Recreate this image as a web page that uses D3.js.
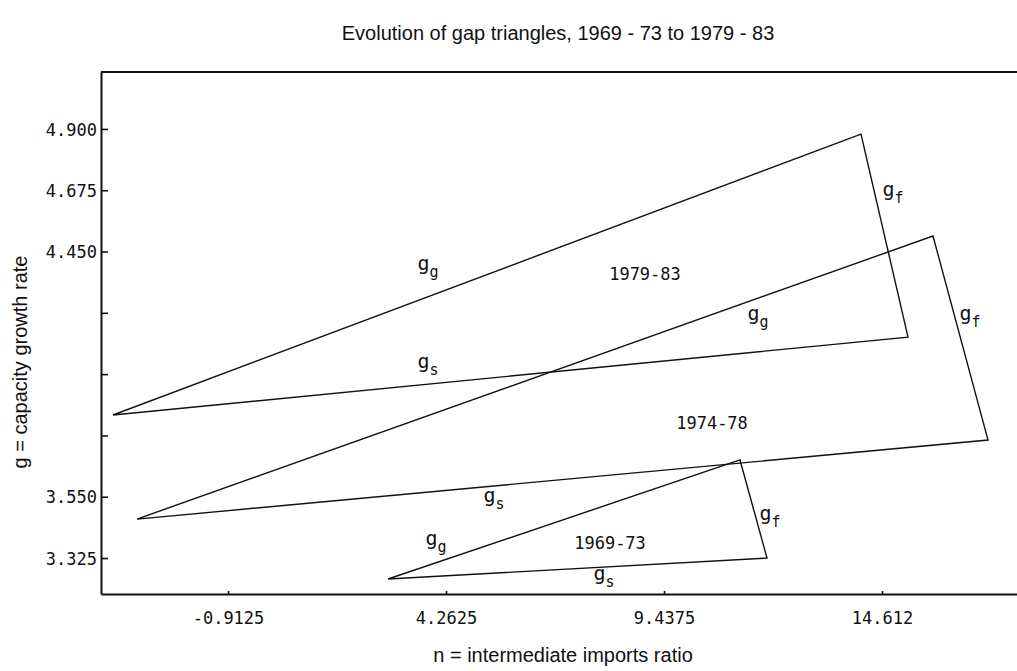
<!DOCTYPE html>
<html>
<head>
<meta charset="utf-8">
<script src="https://cdn.jsdelivr.net/npm/d3@7"></script>
<style>
  body { margin: 0; background: #fff; }
  .tick text, .lbl { font-family: "DejaVu Sans Mono", monospace; fill: #111; }
  .ttl { font-family: "Liberation Sans", Arial, sans-serif; fill: #111; }
</style>
</head>
<body>
<div id="chart"></div>
<script>
// gap triangles, one per period: left, top and right vertices (n, g)
const periods = ["1969-73", "1974-78", "1979-83"];
const leftN  = [2.885, -3.072, -3.642];
const leftG  = [3.248, 3.468, 3.850];
const topN   = [11.240, 15.821, 14.112];
const topG   = [3.685, 4.507, 4.881];
const rightN = [11.881, 17.127, 15.228];
const rightG = [3.325, 3.758, 4.136];

// text labels placed on the chart
const labelMain = ["g", "1969-73", "g", "g",  "g", "1974-78", "g", "g",  "g", "1979-83", "g", "g"];
const labelSub  = ["g", "", "f", "s",  "g", "", "f", "s",  "g", "", "f", "s"];
const labelN = [4.025, 8.155, 11.952, 8.012,  11.668, 10.576, 16.700, 5.401,  3.835, 8.985, 14.872, 3.835];
const labelG = [3.380, 3.380, 3.472, 3.252,   4.206, 3.821, 4.206, 3.538,    4.390, 4.368, 4.660, 4.030];

// axes
const xTickValues = [-0.9125, 4.2625, 9.4375, 14.612];
const xTickLabels = ["-0.9125", "4.2625", "9.4375", "14.612"];
const yTickValues = [3.325, 3.550, 3.775, 4.000, 4.225, 4.450, 4.675, 4.900];
const yTickLabels = ["3.325", "3.550", "", "", "", "4.450", "4.675", "4.900"];

const config = {
    containerWidth: 1017,
    containerHeight: 671,
    margin: {top: 72, right: 0, bottom: 77, left: 101}
};
const width = config.containerWidth - config.margin.left - config.margin.right;
const height = config.containerHeight - config.margin.top - config.margin.bottom;

const svg = d3.select("#chart").append("svg")
    .attr("width", config.containerWidth)
    .attr("height", config.containerHeight);

const chart = svg.append("g")
    .attr("transform", `translate(${config.margin.left},${config.margin.top})`);

const xScale = d3.scaleLinear().domain([-3.927, 17.815]).range([0, width]);
const yScale = d3.scaleLinear().domain([3.193, 5.109]).range([height, 0]);

const xAxis = d3.axisBottom(xScale)
    .tickValues(xTickValues)
    .tickFormat((d, i) => xTickLabels[i])
    .tickSizeInner(-3).tickSizeOuter(0).tickPadding(18);
const yAxis = d3.axisLeft(yScale)
    .tickValues(yTickValues)
    .tickFormat((d, i) => yTickLabels[i])
    .tickSizeInner(-7).tickSizeOuter(0).tickPadding(4);

const gx = chart.append("g")
    .attr("transform", `translate(0,${height})`)
    .call(xAxis);
const gy = chart.append("g").call(yAxis);

[gx, gy].forEach(g => {
    g.select(".domain").attr("stroke", "#111").attr("stroke-width", 2);
    g.selectAll(".tick line").attr("stroke", "#111").attr("stroke-width", 1.6);
    g.selectAll(".tick text").attr("font-size", 17).attr("fill", "#111");
});
gy.selectAll(".tick text").attr("dy", "0.36em");

// top frame line
chart.append("line")
    .attr("x1", 0).attr("x2", width)
    .attr("y1", 0).attr("y2", 0)
    .attr("stroke", "#111").attr("stroke-width", 2);

// triangles
const tri = periods.map((p, i) => [
    [leftN[i], leftG[i]], [topN[i], topG[i]], [rightN[i], rightG[i]]
]);
chart.selectAll(".tri")
    .data(tri)
    .enter().append("path")
    .attr("class", "tri")
    .attr("d", d => "M" + d.map(v => xScale(v[0]) + "," + yScale(v[1])).join("L") + "Z")
    .attr("fill", "none")
    .attr("stroke", "#111")
    .attr("stroke-width", 1.4)
    .attr("stroke-linejoin", "miter");

// labels
const lbl = chart.selectAll(".lbl")
    .data(labelMain)
    .enter().append("text")
    .attr("class", "lbl")
    .attr("x", (d, i) => xScale(labelN[i]))
    .attr("y", (d, i) => yScale(labelG[i]))
    .attr("text-anchor", "middle")
    .attr("font-size", 17);
lbl.append("tspan")
    .attr("font-size", (d, i) => labelSub[i] ? 20 : 17)
    .attr("dy", (d, i) => labelSub[i] ? "0.1em" : "0.35em")
    .text(d => d);
lbl.append("tspan")
    .attr("font-size", 15)
    .attr("dy", "0.45em")
    .text((d, i) => labelSub[i]);

// titles
svg.append("text")
    .attr("class", "ttl")
    .attr("x", 558).attr("y", 40)
    .attr("text-anchor", "middle")
    .attr("font-size", 20)
    .text("Evolution of gap triangles, 1969 - 73 to 1979 - 83");

svg.append("text")
    .attr("class", "ttl")
    .attr("x", 563).attr("y", 662)
    .attr("text-anchor", "middle")
    .attr("font-size", 20)
    .text("n = intermediate imports ratio");

svg.append("text")
    .attr("class", "ttl")
    .attr("transform", "translate(27,362) rotate(-90)")
    .attr("text-anchor", "middle")
    .attr("font-size", 20)
    .text("g = capacity growth rate");
</script>
</body>
</html>
